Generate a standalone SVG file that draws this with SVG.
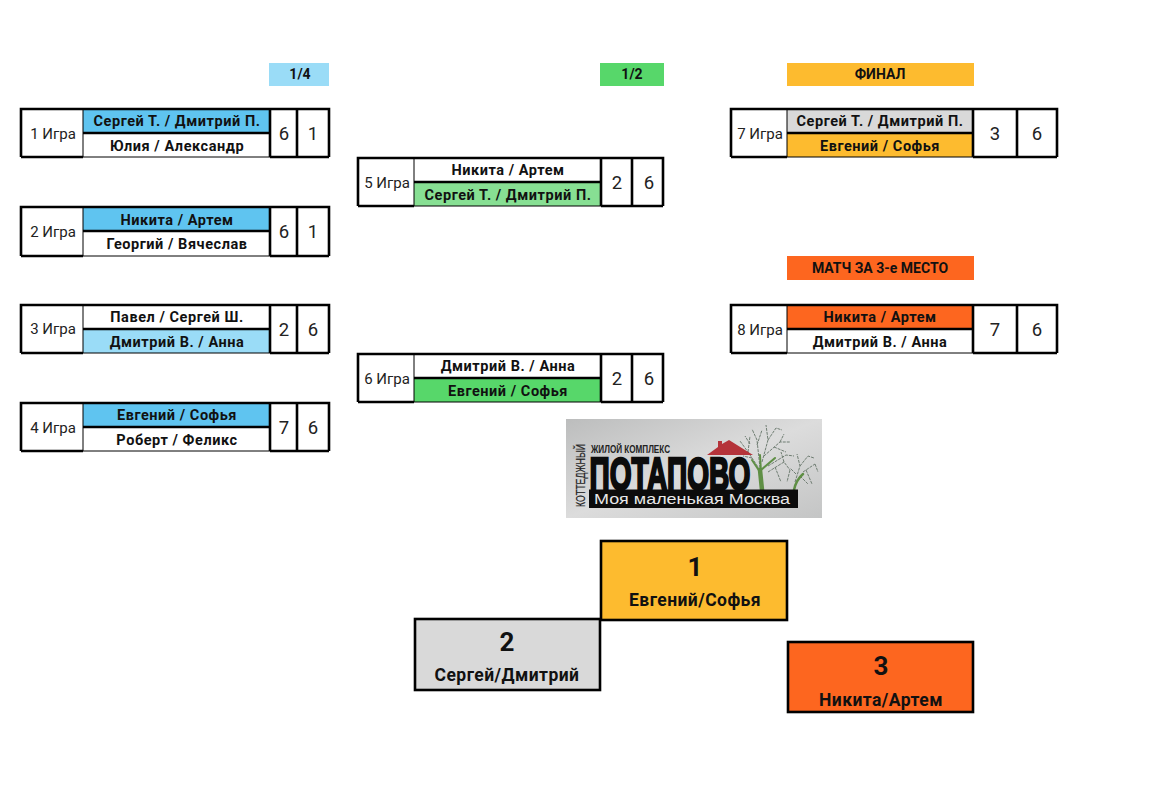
<svg xmlns="http://www.w3.org/2000/svg" width="1168" height="796" viewBox="0 0 1168 796">
<style>
text{font-family:Roboto,"Liberation Sans",sans-serif;text-anchor:middle;fill:#111}
.n{font-size:14.5px;font-weight:700;letter-spacing:.55px}
.l{font-size:15px;fill:#222}
.s{font-size:18.5px;fill:#222}
.h{font-size:14px;font-weight:700}
.b{fill:none;stroke:#000;stroke-width:2.6}
.t{fill:none;stroke:#000;stroke-width:1}
.p1{font-size:26px;font-weight:700}
.p2{font-size:17.5px;font-weight:700;letter-spacing:.45px}
.blue{fill:#5fc4f0}.lblue{fill:#9adcf7}.green{fill:#87df93}.dgreen{fill:#57d76a}.gray{fill:#d9d9d9}.gold{fill:#fdbb2f}.orange{fill:#fd661f}
.logo{font-family:"Liberation Sans",sans-serif;font-weight:700}
.br{fill:none;stroke:#6f7d72;stroke-width:1;stroke-dasharray:3 1}
.tr{fill:none;stroke:#5f8f45;stroke-linecap:round}
</style>
<defs><linearGradient id="lg" x1="0" y1="0" x2="1" y2="1"><stop offset="0" stop-color="#bcbdbd"/><stop offset=".5" stop-color="#dcdcdc"/><stop offset="1" stop-color="#c4c5c5"/></linearGradient></defs>

<g id="head-14"><rect class="lblue" x="269" y="63" width="60" height="23"/><text class="h" x="300" y="79">1/4</text></g>
<g id="head-12"><rect x="600" y="63" width="64" height="23" fill="#57d76a"/><text class="h" x="632" y="79">1/2</text></g>
<g id="head-final"><rect class="gold" x="787" y="63" width="187" height="23"/><text class="h" x="880" y="79">ФИНАЛ</text></g>
<g id="head-third"><rect class="orange" x="787" y="256" width="187" height="24"/><text class="h" x="880" y="273">МАТЧ ЗА 3-е МЕСТО</text></g>

<g id="game1"><rect class="blue" x="83" y="110" width="187" height="23"/>
<path class="b" d="M21 157V109H329V157M83 133H270M270 109V157M297 109V157M21 157H83M270 157H329"/><path class="t" d="M83 109V157M83 157H270"/>
<text class="l" x="53" y="139">1 Игра</text><text class="n" x="177" y="126">Сергей Т. / Дмитрий П.</text><text class="n" x="177" y="151">Юлия / Александр</text><text class="s" x="284" y="140">6</text><text class="s" x="313" y="140">1</text></g>

<g id="game2"><rect class="blue" x="83" y="208" width="187" height="23"/>
<path class="b" d="M21 256V207H329V256M83 231H270M270 207V256M297 207V256M21 256H83M270 256H329"/><path class="t" d="M83 207V256M83 256H270"/>
<text class="l" x="53" y="237">2 Игра</text><text class="n" x="177" y="225">Никита / Артем</text><text class="n" x="177" y="249">Георгий / Вячеслав</text><text class="s" x="284" y="238">6</text><text class="s" x="313" y="238">1</text></g>

<g id="game3"><rect class="lblue" x="83" y="330" width="187" height="23"/>
<path class="b" d="M21 353V305H329V353M83 329H270M270 305V353M297 305V353M21 353H83M270 353H329"/><path class="t" d="M83 305V353M83 353H270"/>
<text class="l" x="53" y="334">3 Игра</text><text class="n" x="177" y="322">Павел / Сергей Ш.</text><text class="n" x="177" y="347">Дмитрий В. / Анна</text><text class="s" x="284" y="336">2</text><text class="s" x="313" y="336">6</text></g>

<g id="game4"><rect class="blue" x="83" y="404" width="187" height="23"/>
<path class="b" d="M21 451V403H329V451M83 427H270M270 403V451M297 403V451M21 451H83M270 451H329"/><path class="t" d="M83 403V451M83 451H270"/>
<text class="l" x="53" y="433">4 Игра</text><text class="n" x="177" y="420">Евгений / Софья</text><text class="n" x="177" y="445">Роберт / Феликс</text><text class="s" x="284" y="434">7</text><text class="s" x="313" y="434">6</text></g>

<g id="game5"><rect class="green" x="414" y="183" width="187" height="23"/>
<path class="b" d="M358 206V158H663V206M414 182H601M601 158V206M632 158V206M358 206H414M601 206H663"/><path class="t" d="M414 158V206M414 206H601"/>
<text class="l" x="387" y="188">5 Игра</text><text class="n" x="508" y="175">Никита / Артем</text><text class="n" x="508" y="200">Сергей Т. / Дмитрий П.</text><text class="s" x="617" y="189">2</text><text class="s" x="649" y="189">6</text></g>

<g id="game6"><rect class="dgreen" x="414" y="379" width="187" height="23"/>
<path class="b" d="M358 402V354H663V402M414 378H601M601 354V402M632 354V402M358 402H414M601 402H663"/><path class="t" d="M414 354V402M414 402H601"/>
<text class="l" x="387" y="384">6 Игра</text><text class="n" x="508" y="371">Дмитрий В. / Анна</text><text class="n" x="508" y="396">Евгений / Софья</text><text class="s" x="617" y="385">2</text><text class="s" x="649" y="385">6</text></g>

<g id="game7"><rect class="gray" x="787" y="110" width="186" height="23"/><rect class="gold" x="787" y="134" width="186" height="23"/>
<path class="b" d="M731 157V109H1057V157M787 133H973M973 109V157M1017 109V157M731 157H787M973 157H1057"/><path class="t" d="M787 109V157M787 157H973"/>
<text class="l" x="760" y="139">7 Игра</text><text class="n" x="880" y="126">Сергей Т. / Дмитрий П.</text><text class="n" x="880" y="151">Евгений / Софья</text><text class="s" x="995" y="140">3</text><text class="s" x="1037" y="140">6</text></g>

<g id="game8"><rect class="orange" x="787" y="306" width="186" height="23"/>
<path class="b" d="M731 353V305H1057V353M787 329H973M973 305V353M1017 305V353M731 353H787M973 353H1057"/><path class="t" d="M787 305V353M787 353H973"/>
<text class="l" x="760" y="335">8 Игра</text><text class="n" x="880" y="322">Никита / Артем</text><text class="n" x="880" y="347">Дмитрий В. / Анна</text><text class="s" x="995" y="336">7</text><text class="s" x="1037" y="336">6</text></g>

<g id="logo">
<rect x="566" y="419" width="256" height="99" fill="url(#lg)"/>
<path class="br" d="M760 470L748 452L740 441M752 458L743 456M748 452L750 436M750 444L745 436M760 468L757 440L752 429M757 445L762 430M762 462L768 440L766 425M768 440L776 428L782 430M764 456L780 442L790 442M780 442L784 434M774 447L786 452M768 466L786 455L794 456"/>
<path class="br" d="M768 472L784 462L790 470M784 462L781 452M790 470L787 482M775 467L781 482"/>
<path class="br" d="M795 482L800 466L797 454M800 466L808 456L814 458M803 472L815 464M815 464L818 472M806 470L812 484M800 476L808 484M796 474L790 468"/>
<path class="tr" stroke-width="4.5" d="M762 490L760 470"/>
<path class="tr" stroke-width="2" d="M760 472L752 460M761 470L775 458M761 472L760 455"/>
<path class="tr" stroke-width="2.5" d="M794 490Q796 480 803 474"/>
<path d="M707 455L718 447V441H722V444L729 440L753 455Z" fill="#b5333a"/>
<text class="logo" x="0" y="0" font-size="12" textLength="63" lengthAdjust="spacingAndGlyphs" transform="translate(584.5 475.5) rotate(-90)" style="fill:#222;font-weight:400;stroke:#222;stroke-width:.2">КОТТЕДЖНЫЙ</text>
<text class="logo" x="630.5" y="453" font-size="11" textLength="79" lengthAdjust="spacingAndGlyphs" style="fill:#222">ЖИЛОЙ КОМПЛЕКС</text>
<text class="logo" x="670" y="490" font-size="46" textLength="161" lengthAdjust="spacingAndGlyphs" style="fill:#0c0c0c;stroke:#0c0c0c;stroke-width:2.4">ПОТАПОВО</text>
<rect x="589" y="489.500" width="209" height="18.500" fill="#0c0c0c"/>
<text class="logo" x="692" y="504" font-size="14" textLength="196" lengthAdjust="spacingAndGlyphs" style="fill:#e8e8e8;font-weight:400">Моя маленькая Москва</text>
</g>

<g id="place1"><rect class="gold" x="601" y="541" width="186" height="79"/><rect class="b" x="601" y="541" width="186" height="79"/><text class="p1" x="695" y="576">1</text><text class="p2" x="695" y="606">Евгений/Софья</text></g>
<g id="place2"><rect class="gray" x="415" y="619" width="185" height="71"/><rect class="b" x="415" y="619" width="185" height="71"/><text class="p1" x="507" y="651">2</text><text class="p2" x="507" y="681">Сергей/Дмитрий</text></g>
<g id="place3"><rect class="orange" x="788" y="642" width="185" height="70"/><rect class="b" x="788" y="642" width="185" height="70"/><text class="p1" x="881" y="675">3</text><text class="p2" x="881" y="706">Никита/Артем</text></g>
</svg>
